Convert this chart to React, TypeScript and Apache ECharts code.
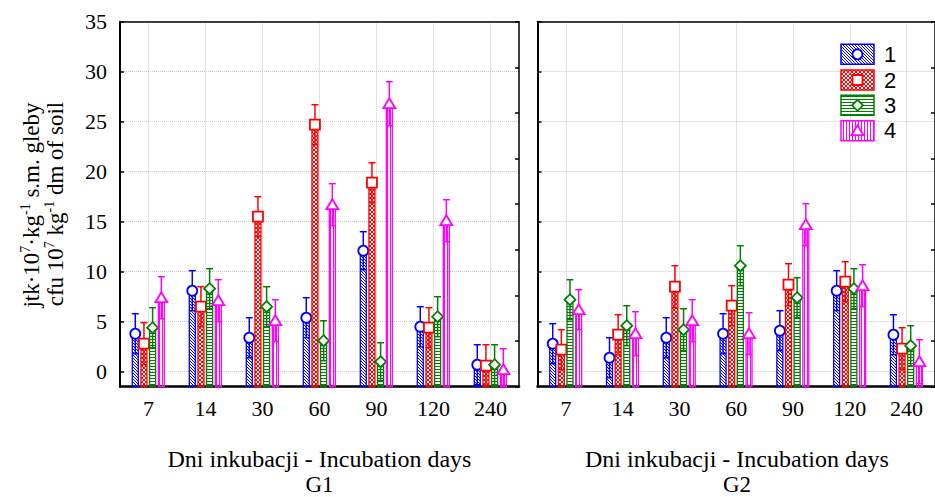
import React, { useEffect, useRef } from "react";
import * as echarts from "echarts";

const categories = ["7", "14", "30", "60", "90", "120", "240"];
const seriesNames = ["1", "2", "3", "4"];
const yTicks = [0, 5, 10, 15, 20, 25, 30, 35];

// G1 panel values (means) per series 1..4
const g1Series1 = [3.8, 8.1, 3.4, 5.4, 12.1, 4.5, 0.7];
const g1Series2 = [2.8, 6.5, 15.5, 24.7, 18.9, 4.4, 0.6];
const g1Series3 = [4.4, 8.3, 6.5, 3.1, 1.0, 5.5, 0.7];
const g1Series4 = [7.4, 7.1, 5.1, 16.7, 26.8, 15.1, 0.2];
// G1 error (SD)
const g1Err1 = [2.0, 2.0, 2.0, 2.0, 1.9, 2.0, 2.0];
const g1Err2 = [2.1, 2.0, 2.0, 2.0, 2.0, 2.0, 2.1];
const g1Err3 = [2.0, 2.0, 2.0, 2.0, 1.9, 2.0, 2.0];
const g1Err4 = [2.1, 2.1, 2.1, 2.1, 2.2, 2.1, 2.1];

// G2 panel values
const g2Series1 = [2.8, 1.4, 3.4, 3.8, 4.1, 8.1, 3.7];
const g2Series2 = [2.2, 3.7, 8.5, 6.6, 8.7, 9.0, 2.3];
const g2Series3 = [7.2, 4.6, 4.2, 10.6, 7.4, 8.3, 2.6];
const g2Series4 = [6.2, 3.8, 5.1, 3.8, 14.7, 8.6, 1.0];
const g2Err1 = [2.0, 2.0, 2.0, 2.0, 2.0, 2.0, 2.0];
const g2Err2 = [2.0, 2.0, 2.1, 2.0, 2.1, 2.0, 2.1];
const g2Err3 = [2.0, 2.0, 2.1, 2.0, 2.0, 2.0, 2.0];
const g2Err4 = [2.0, 2.2, 2.1, 2.1, 2.1, 2.1, 2.2];

const colors = ["#0000ff", "#ff0000", "#008000", "#ff00ff"];
const SERIF = "Liberation Serif";
const SANS = "Liberation Sans";

function makePattern(kind: number, color: string) {
  const c = document.createElement("canvas");
  if (kind === 0) {
    c.width = 3; c.height = 3;
    const ctx = c.getContext("2d")!;
    ctx.fillStyle = color;
    for (let i = 0; i < 3; i++) ctx.fillRect(i, i, 1, 1);
  } else if (kind === 1) {
    c.width = 4; c.height = 4;
    const ctx = c.getContext("2d")!;
    ctx.fillStyle = color;
    for (let i = 0; i < 4; i++) { ctx.fillRect(i, i, 1, 1); ctx.fillRect(i, 3 - i, 1, 1); }
  } else if (kind === 2) {
    c.width = 3; c.height = 3;
    const ctx = c.getContext("2d")!;
    ctx.fillStyle = color;
    ctx.fillRect(0, 0, 3, 1);
  } else {
    c.width = 3; c.height = 3;
    const ctx = c.getContext("2d")!;
    ctx.fillStyle = color;
    ctx.fillRect(0, 0, 1, 3);
  }
  return { image: c, repeat: "repeat" };
}

function marker(gi: number, x: number, y: number, color: string, s = 1) {
  const st = { fill: "#fff", stroke: color, lineWidth: 1.8 };
  if (gi === 0) return { type: "circle", shape: { cx: x, cy: y, r: 5 * s }, style: st };
  if (gi === 1) return { type: "rect", shape: { x: x - 5 * s, y: y - 5 * s, width: 10 * s, height: 10 * s }, style: st };
  if (gi === 2)
    return { type: "polygon", shape: { points: [[x, y - 5.5 * s], [x + 5.5 * s, y], [x, y + 5.5 * s], [x - 5.5 * s, y]] }, style: st };
  return { type: "polygon", shape: { points: [[x, y - 5.5 * s], [x + 6 * s, y + 4.5 * s], [x - 6 * s, y + 4.5 * s]] }, style: st };
}

const offsets = [-0.232, -0.08, 0.072, 0.225];

export default function App() {
  const ref = useRef<HTMLDivElement>(null);
  useEffect(() => {
    if (!ref.current) return;
    const chart = echarts.init(ref.current, undefined, { renderer: "svg" });
    const patterns = colors.map((c, i) => makePattern(i, c));

    const makeRender = (gi: number) => (params: any, api: any) => {
      const ci = api.value(0);
      const v = api.value(1);
      const sd = api.value(2);
      const band = api.size([1, 0])[0];
      const base = api.coord([ci, v]);
      const x = base[0] + offsets[gi] * band;
      const yv = base[1];
      const cs = params.coordSys;
      const bottom = cs.y + cs.height;
      const yHi = api.coord([ci, v + sd])[1];
      const yLo = Math.min(api.coord([ci, v - sd])[1], bottom);
      const w = 0.105 * band;
      const color = colors[gi];
      const ls = { stroke: color, lineWidth: 1.5 };
      return {
        type: "group",
        children: [
          { type: "rect", shape: { x: x - w / 2, y: yv, width: w, height: bottom - yv }, style: { fill: patterns[gi], stroke: color, lineWidth: 1.3 } },
          { type: "line", shape: { x1: x, y1: yLo, x2: x, y2: yHi }, style: ls },
          { type: "line", shape: { x1: x - 3.5, y1: yHi, x2: x + 3.5, y2: yHi }, style: ls },
          { type: "line", shape: { x1: x - w / 2, y1: yLo, x2: x + w / 2, y2: yLo }, style: ls },
          marker(gi, x, yv, color),
        ],
      };
    };

    const panels = [
      { vals: [g1Series1, g1Series2, g1Series3, g1Series4], errs: [g1Err1, g1Err2, g1Err3, g1Err4] },
      { vals: [g2Series1, g2Series2, g2Series3, g2Series4], errs: [g2Err1, g2Err2, g2Err3, g2Err4] },
    ];

    const series: any[] = [];
    panels.forEach((p, pi) => {
      p.vals.forEach((vals, gi) => {
        series.push({
          type: "custom",
          name: seriesNames[gi],
          xAxisIndex: pi * 2,
          yAxisIndex: pi * 2,
          renderItem: makeRender(gi),
          encode: { x: 0, y: 1 },
          clip: false,
          data: vals.map((v, ci) => [ci, v, p.errs[gi][ci]]),
          z: 3,
        });
      });
    });

    const grids = [
      { left: 120, top: 21.7, width: 399, height: 365 },
      { left: 537.5, top: 21.7, width: 399, height: 365 },
    ];
    const gridLine = { show: true, lineStyle: { color: "#c8c8c8", type: "dotted", width: 1 } };
    const xAxis: any[] = [];
    const yAxis: any[] = [];
    grids.forEach((_, i) => {
      xAxis.push({
        type: "category", gridIndex: i, data: categories, position: "bottom",
        axisLine: { onZero: false, lineStyle: { color: "#000", width: 2.5 } },
        axisTick: { inside: true, alignWithLabel: true, length: 4, lineStyle: { color: "#000", width: 1.5 } },
        axisLabel: { fontFamily: SERIF, fontSize: 22, color: "#000", margin: 11 },
        splitLine: { ...gridLine, alignWithLabel: true },
      });
      xAxis.push({
        type: "category", gridIndex: i, data: categories, position: "top",
        axisLine: { onZero: false, lineStyle: { color: "#000", width: 1.5 } },
        axisTick: { inside: true, alignWithLabel: true, length: 4, lineStyle: { color: "#000", width: 1.5 } },
        axisLabel: { show: false }, splitLine: { show: false },
      });
      yAxis.push({
        type: "value", gridIndex: i, min: -1.5, max: 35, position: "left",
        axisLine: { show: true, onZero: false, lineStyle: { color: "#000", width: 2 } },
        axisTick: { show: true, inside: true, length: 4, customValues: yTicks, lineStyle: { color: "#000", width: 1.5 } },
        axisLabel: { show: i === 0, customValues: yTicks, fontFamily: SERIF, fontSize: 22, color: "#000", margin: 13 },
        splitLine: gridLine,
      });
      yAxis.push({
        type: "value", gridIndex: i, min: 0, max: 8, interval: 1, position: "right",
        axisLine: { show: true, onZero: false, lineStyle: { color: "#000", width: 1.5 } },
        axisTick: { show: true, inside: true, length: 4, lineStyle: { color: "#000", width: 1.5 } },
        axisLabel: { show: false }, splitLine: { show: false },
      });
    });

    const rich = {
      n: { fontFamily: SERIF, fontSize: 23, lineHeight: 26, color: "#000" },
      s: { fontFamily: SERIF, fontSize: 14, lineHeight: 26, color: "#000", verticalAlign: "top", padding: [0, 0, 9, 0] },
    };

    const graphic: any[] = [
      {
        type: "text", x: 31, y: 205, rotation: Math.PI / 2,
        style: { text: "{n|jtk·10}{s|7}{n|·kg}{s|-1}{n| s.m. gleby}", rich, align: "center", verticalAlign: "middle" },
      },
      {
        type: "text", x: 55, y: 204, rotation: Math.PI / 2,
        style: { text: "{n|cfu 10}{s|7}{n| kg}{s|-1}{n| dm of soil}", rich, align: "center", verticalAlign: "middle" },
      },
    ];
    [319.5, 737].forEach((cx, i) => {
      graphic.push({ type: "text", x: cx, y: 459, style: { text: "Dni inkubacji - Incubation days", fontFamily: SERIF, fontSize: 24, fill: "#000", align: "center", verticalAlign: "middle" } });
      graphic.push({ type: "text", x: cx, y: 484, style: { text: i === 0 ? "G1" : "G2", fontFamily: SERIF, fontSize: 23, fill: "#000", align: "center", verticalAlign: "middle" } });
    });
    const legTop = [44.3, 70, 95.3, 120.7];
    seriesNames.forEach((nm, gi) => {
      const y = legTop[gi];
      graphic.push({ type: "rect", shape: { x: 841, y, width: 33, height: 20 }, style: { fill: patterns[gi], stroke: colors[gi], lineWidth: 1.5 }, z: 10 });
      graphic.push({ ...marker(gi, 857.5, y + 10, colors[gi]), z: 11 });
      graphic.push({ type: "text", x: 884, y: y + 10, style: { text: nm, fontFamily: SANS, fontSize: 22, fill: "#000", align: "left", verticalAlign: "middle" }, z: 11 });
    });

    chart.setOption({
      animation: false,
      backgroundColor: "#fff",
      grid: grids,
      xAxis,
      yAxis,
      series,
      graphic,
    });
    return () => chart.dispose();
  }, []);
  return <div ref={ref} style={{ position: "fixed", left: 0, top: 0, width: 935, height: 497 }} />;
}
